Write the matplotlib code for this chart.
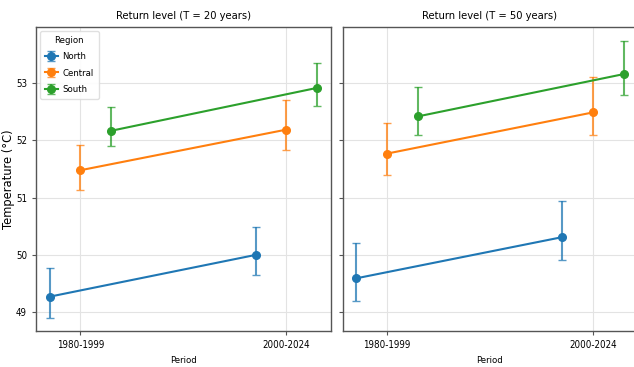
import matplotlib
matplotlib.use("Agg")
import matplotlib.pyplot as plt
import numpy as np

plt.rcParams["font.family"] = ["DejaVu Sans"]
plt.rcParams["font.stretch"] = "condensed"

# Return level estimates with lower / upper bounds of the confidence interval
periods = ["1980-1999", "2000-2024"]
regions = ["North", "Central", "South"]
colors = ["#1f77b4", "#ff7f0e", "#2ca02c"]

rl20 = {"North": [49.27, 50.00], "Central": [51.48, 52.19], "South": [52.17, 52.92]}
lo20 = {"North": [48.89, 49.65], "Central": [51.13, 51.84], "South": [51.90, 52.60]}
hi20 = {"North": [49.77, 50.49], "Central": [51.92, 52.70], "South": [52.59, 53.36]}

rl50 = {"North": [49.59, 50.31], "Central": [51.77, 52.49], "South": [52.42, 53.16]}
lo50 = {"North": [49.19, 49.92], "Central": [51.40, 52.09], "South": [52.10, 52.80]}
hi50 = {"North": [50.21, 50.94], "Central": [52.31, 53.11], "South": [52.93, 53.73]}

offsets = [-0.15, 0.0, 0.15]


def draw_panel(ax, rl, lo, hi, title):
    x = np.arange(len(periods))
    for reg, col, off in zip(regions, colors, offsets):
        y = np.array(rl[reg])
        err = [y - np.array(lo[reg]), np.array(hi[reg]) - y]
        eb = ax.errorbar(x + off, y, yerr=err, fmt="-o", color=col, ecolor=col,
                         elinewidth=1.5, capsize=3, markersize=5.5, linewidth=1.5,
                         label=reg)
        for part in eb[1] + eb[2]:
            part.set_alpha(0.75)
    ax.set_xticks(x)
    ax.set_xticklabels(periods, fontsize=6.8)
    ax.set_title(title, fontsize=8)
    ax.set_xlabel("Period", fontsize=6.8)
    ax.grid(True, color="#e3e3e3", linewidth=0.8)
    ax.set_axisbelow(True)
    for s in ax.spines.values():
        s.set_color("#555555")
        s.set_linewidth(1.0)
    ax.tick_params(axis="both", labelsize=7, color="#555555", length=3)


fig, (ax1, ax2) = plt.subplots(1, 2, figsize=(6.34, 3.67), dpi=100, sharey=True)
fig.subplots_adjust(left=0.057, right=1.005, top=0.926, bottom=0.098, wspace=0.04)

draw_panel(ax1, rl20, lo20, hi20, "Return level (T = 20 years)")
draw_panel(ax2, rl50, lo50, hi50, "Return level (T = 50 years)")

ax1.set_ylabel("Temperature (°C)", fontsize=8.3, fontstretch="normal", labelpad=1)
ax1.set_yticks([49, 50, 51, 52, 53])
ax1.set_ylim(48.67, 53.98)
ax1.legend(title="Region", loc="upper left", fontsize=6.8, title_fontsize=6.8,
           framealpha=0.9, edgecolor="#dddddd", handlelength=1.4,
           handletextpad=0.5, borderpad=0.5, labelspacing=0.8,
           borderaxespad=0.4)

fig.savefig("out.png", dpi=100)
